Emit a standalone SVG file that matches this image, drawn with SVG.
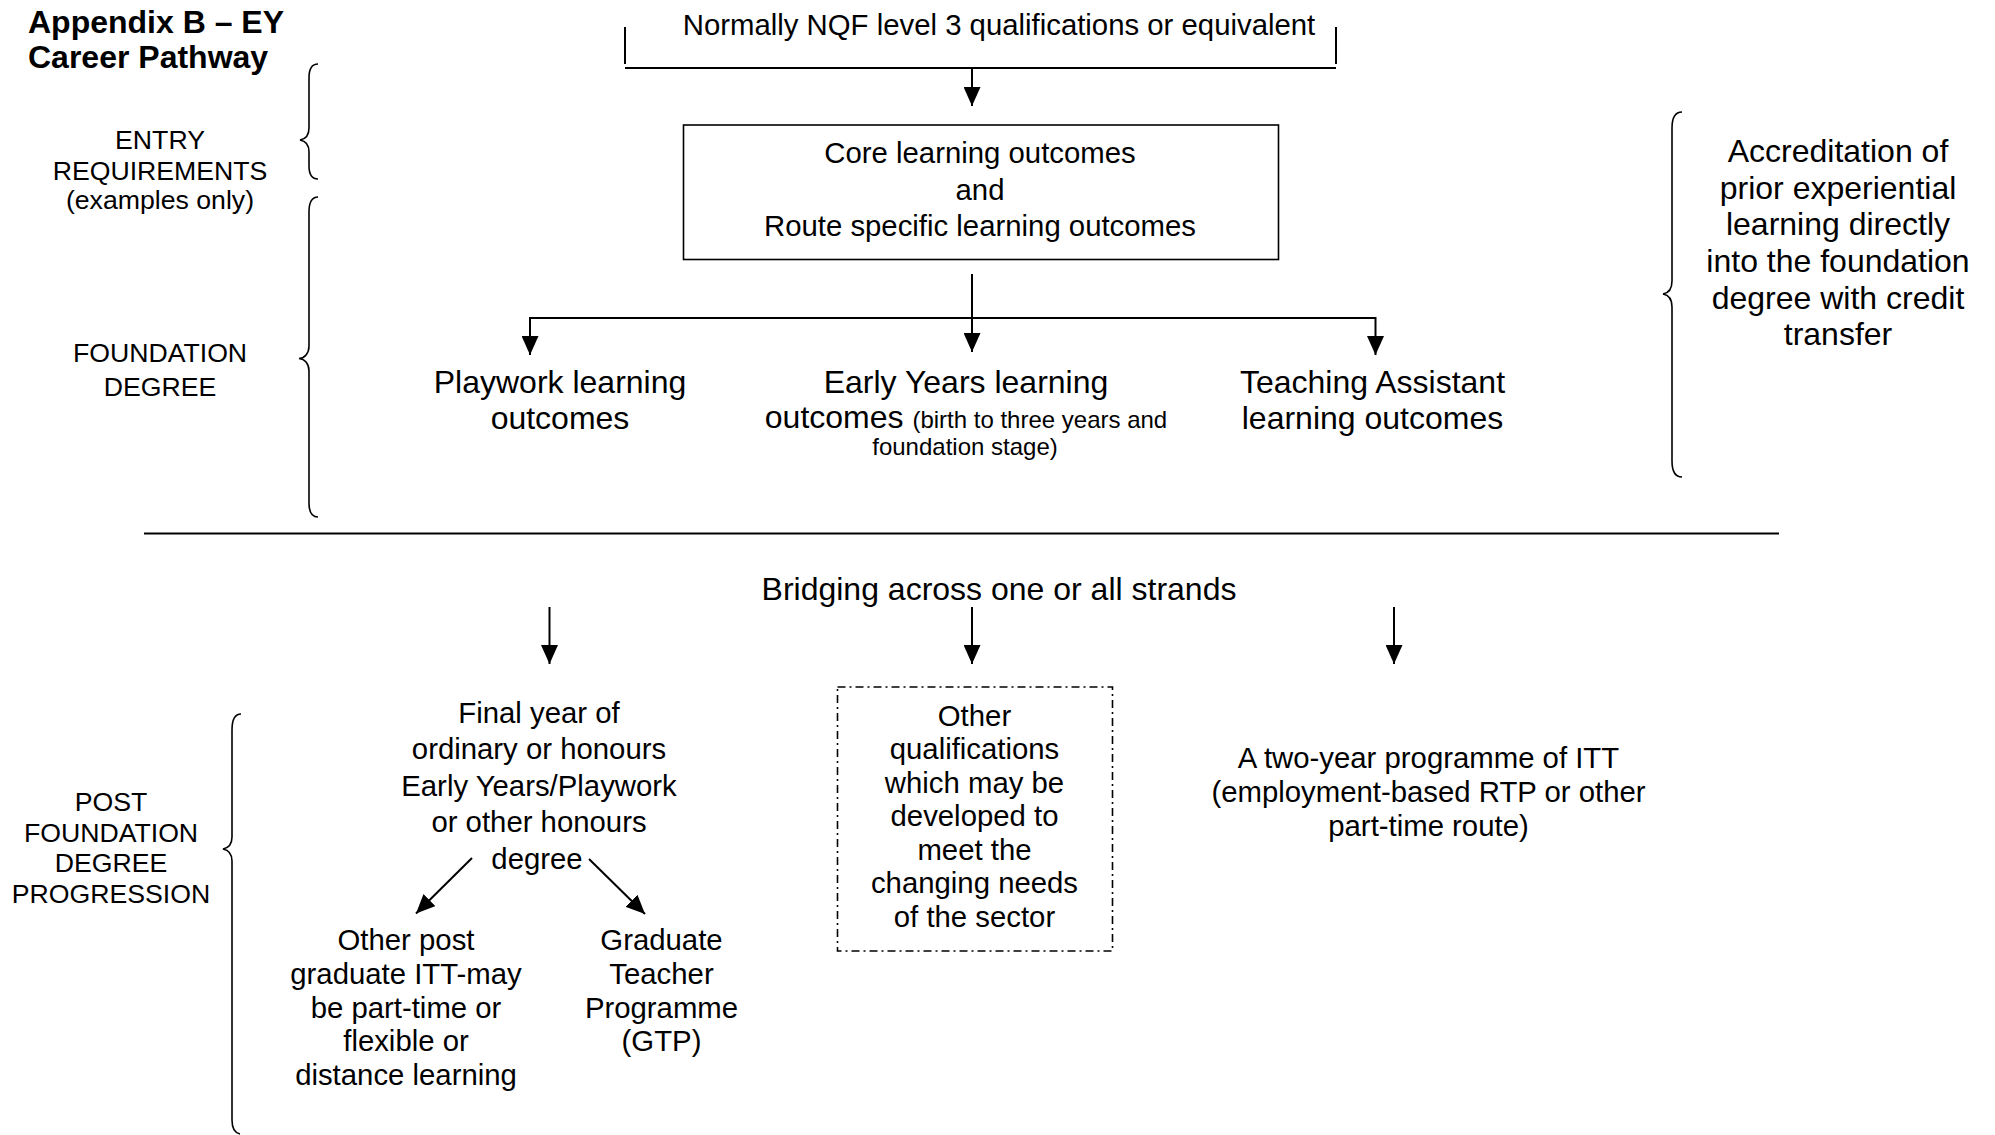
<svg xmlns="http://www.w3.org/2000/svg" width="1995" height="1135" viewBox="0 0 1995 1135">
<style>
  text { font-family: "Liberation Sans", Arial, sans-serif; fill: #000; }
  .t32 { font-size: 32px; text-anchor: middle; }
  .t29 { font-size: 29.33px; text-anchor: middle; }
  .t24 { font-size: 24px; }
  .lab { font-size: 26.67px; text-anchor: middle; }
  .title { font-size: 32px; font-weight: bold; }
  .ln { stroke: #000; stroke-width: 2; fill: none; }
  .arr { stroke: #000; stroke-width: 2; fill: none; marker-end: url(#ah); }
  .brace { stroke: #000; stroke-width: 1.6; fill: none; }
  .box { stroke: #000; stroke-width: 1.6; fill: none; }
  .dash { stroke: #000; stroke-width: 1.6; fill: none; stroke-dasharray: 8 4 2 4; }
</style>
<defs>
  <marker id="ah" markerUnits="userSpaceOnUse" markerWidth="19" markerHeight="17" refX="19" refY="8.5" orient="auto">
    <path d="M0,0 L19,8.5 L0,17 z" fill="#000"/>
  </marker>
</defs>
<rect width="1995" height="1135" fill="#fff"/>

<g id="title">
  <text class="title" x="28" y="33">Appendix B – EY</text>
  <text class="title" x="28" y="67.5">Career Pathway</text>
</g>

<g id="labels">
  <g id="label-entry">
    <text class="lab" x="160" y="148.5">ENTRY</text>
    <text class="lab" x="160" y="179.5">REQUIREMENTS</text>
    <text class="lab" x="160" y="209">(examples only)</text>
  </g>
  <g id="label-foundation">
    <text class="lab" x="160" y="362">FOUNDATION</text>
    <text class="lab" x="160" y="396">DEGREE</text>
  </g>
  <g id="label-post">
    <text class="lab" x="111" y="810.5">POST</text>
    <text class="lab" x="111" y="841.5">FOUNDATION</text>
    <text class="lab" x="111" y="872">DEGREE</text>
    <text class="lab" x="111" y="902.5">PROGRESSION</text>
  </g>
</g>

<g id="braces">
  <path class="brace" d="M318,64 C312,64 309,69 309,78 L309,128 C309,135 306,139 300,140 C306,141 309,145 309,152 L309,166 C309,174 312,179 318,179"/>
  <path class="brace" d="M318,197 C312,197 309,203 309,212 L309,346 C309,353 305,358 299,358.5 C305,359 309,364 309,371 L309,503 C309,512 312,517 318,517"/>
  <path class="brace" d="M241,714 C235,714 232,720 232,730 L232,837 C232,844 228,848 223,849 C228,850 232,854 232,861 L232,1120 C232,1128 235,1133 240,1134"/>
  <path class="brace" d="M1682,112 C1675,112 1672,118 1672,128 L1672,281 C1672,289 1669,293 1663,294 C1669,295 1672,299 1672,307 L1672,461 C1672,471 1675,477 1682,477"/>
</g>

<g id="entry">
  <text class="t29" x="999" y="34.5">Normally NQF level 3 qualifications or equivalent</text>
  <path class="ln" d="M625,27 L625,64 M625,68 L1336,68 M1336,27 L1336,64"/>
</g>

<g id="core">
  <rect class="box" x="683.5" y="125" width="595" height="134.5"/>
  <text class="t29" x="980" y="163">Core learning outcomes</text>
  <text class="t29" x="980" y="199.5">and</text>
  <text class="t29" x="980" y="236">Route specific learning outcomes</text>
</g>

<g id="playwork">
  <text class="t32" x="560" y="392.5">Playwork learning</text>
  <text class="t32" x="560" y="428.5">outcomes</text>
</g>

<g id="earlyyears">
  <text class="t32" x="966" y="392.5">Early Years learning</text>
  <text class="t32" x="966" y="427.5">outcomes <tspan class="t24">(birth to three years and</tspan></text>
  <text class="t24" x="965" y="455" text-anchor="middle">foundation stage)</text>
</g>

<g id="teaching">
  <text class="t32" x="1372.5" y="392.5">Teaching Assistant</text>
  <text class="t32" x="1372.5" y="428.5">learning outcomes</text>
</g>

<g id="apel">
  <text class="t32" x="1838" y="162">Accreditation of</text>
  <text class="t32" x="1838" y="198.7">prior experiential</text>
  <text class="t32" x="1838" y="235.4">learning directly</text>
  <text class="t32" x="1838" y="272">into the foundation</text>
  <text class="t32" x="1838" y="308.7">degree with credit</text>
  <text class="t32" x="1838" y="345.4">transfer</text>
</g>

<g id="separator">
  <line class="ln" x1="144" y1="533.5" x2="1779" y2="533.5"/>
</g>

<g id="bridging">
  <text class="t32" x="999" y="599.5">Bridging across one or all strands</text>
</g>

<g id="finalyear">
  <text class="t29" x="539" y="722.5">Final year of</text>
  <text class="t29" x="539" y="759">ordinary or honours</text>
  <text class="t29" x="539" y="795.5">Early Years/Playwork</text>
  <text class="t29" x="539" y="832">or other honours</text>
  <text class="t29" x="537" y="868.5">degree</text>
</g>

<g id="otherpost">
  <text class="t29" x="406" y="950">Other post</text>
  <text class="t29" x="406" y="984">graduate ITT-may</text>
  <text class="t29" x="406" y="1017.5">be part-time or</text>
  <text class="t29" x="406" y="1051">flexible or</text>
  <text class="t29" x="406" y="1084.5">distance learning</text>
</g>

<g id="gtp">
  <text class="t29" x="661.5" y="950">Graduate</text>
  <text class="t29" x="661.5" y="984">Teacher</text>
  <text class="t29" x="661.5" y="1017.5">Programme</text>
  <text class="t29" x="661.5" y="1051">(GTP)</text>
</g>

<g id="otherquals">
  <rect class="dash" x="837.5" y="687" width="275" height="264"/>
  <text class="t29" x="974.5" y="725.5">Other</text>
  <text class="t29" x="974.5" y="759">qualifications</text>
  <text class="t29" x="974.5" y="792.5">which may be</text>
  <text class="t29" x="974.5" y="826">developed to</text>
  <text class="t29" x="974.5" y="859.5">meet the</text>
  <text class="t29" x="974.5" y="893">changing needs</text>
  <text class="t29" x="974.5" y="926.5">of the sector</text>
</g>

<g id="itt">
  <text class="t29" x="1428.5" y="767.5">A two-year programme of ITT</text>
  <text class="t29" x="1428.5" y="802">(employment-based RTP or other</text>
  <text class="t29" x="1428.5" y="836">part-time route)</text>
</g>

<g id="connectors">
  <line class="arr" x1="972" y1="68" x2="972" y2="106"/>
  <line class="ln" x1="972" y1="274" x2="972" y2="318"/>
  <path class="ln" d="M530,318 L1375.5,318"/>
  <line class="arr" x1="530" y1="317" x2="530" y2="355"/>
  <line class="arr" x1="972" y1="317" x2="972" y2="352"/>
  <line class="arr" x1="1375.5" y1="317" x2="1375.5" y2="355"/>
  <line class="arr" x1="549.5" y1="607" x2="549.5" y2="664"/>
  <line class="arr" x1="972" y1="607" x2="972" y2="664"/>
  <line class="arr" x1="1394" y1="607" x2="1394" y2="664"/>
  <line class="arr" x1="472" y1="858" x2="416" y2="913.5"/>
  <line class="arr" x1="589" y1="859" x2="645" y2="914"/>
</g>
</svg>
